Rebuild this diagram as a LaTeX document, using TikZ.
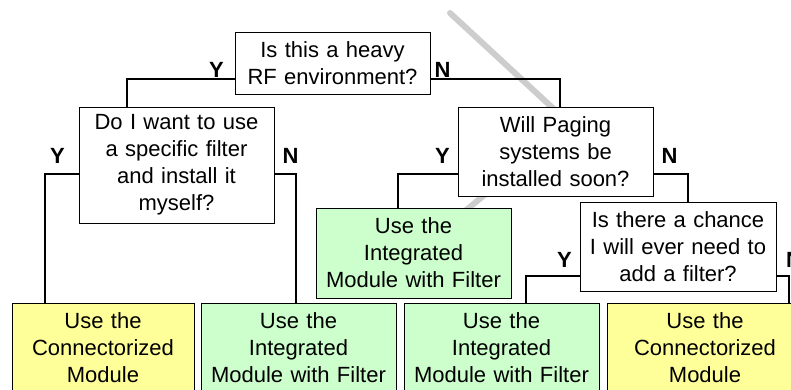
\documentclass[tikz,border=0pt]{standalone}
\usepackage{fontspec}
\setmainfont{Liberation Sans}
\definecolor{yellowbox}{RGB}{255,255,153}
\definecolor{greenbox}{RGB}{204,255,204}
\definecolor{slash}{RGB}{205,205,205}
\begin{document}
\begin{tikzpicture}[x=1pt,y=-1pt,
  box/.style={draw=black,line width=0.9pt,fill=white,inner sep=0pt,align=center,
    font=\fontsize{22}{27}\selectfont},
  ybox/.style={box,fill=yellowbox},
  gbox/.style={box,fill=greenbox},
  yn/.style={font=\fontsize{22}{26}\selectfont\bfseries,anchor=base,inner sep=0pt},
  conn/.style={draw=black,line width=1.1pt}]
\useasboundingbox (0,0) rectangle (791,390);
\clip (0,0) rectangle (791,390);
% grey mark behind the boxes
\draw[slash,line width=6pt,line cap=round,line join=round] (450,13) -- (570,124) -- (400,265);
% decision boxes
\node[box,minimum width=195pt,minimum height=62pt,text width=190pt] (q1) at (332.5,63) {Is this a heavy\\RF environment?};
\node[box,minimum width=195pt,minimum height=116pt,text width=190pt] (q2) at (176.5,165) {Do I want to use\\a specific filter\\and install it\\myself?};
\node[box,minimum width=195pt,minimum height=89pt,text width=190pt] (q3) at (555.5,151.5) {Will Paging\\systems be\\installed soon?};
\node[box,minimum width=196pt,minimum height=89pt,text width=190pt] (q4) at (678,246.5) {Is there a chance\\I will ever need to\\add a filter?};
% result boxes
\node[gbox,minimum width=195pt,minimum height=90pt,text width=190pt] (g1) at (413.5,253) {Use the\\Integrated\\Module with Filter};
\node[ybox,minimum width=182pt,minimum height=90pt,text width=178pt] (b1) at (103,348) {Use the\\Connectorized\\Module};
\node[gbox,minimum width=195pt,minimum height=90pt,text width=190pt] (b2) at (298.5,348) {Use the\\Integrated\\Module with Filter};
\node[gbox,minimum width=195pt,minimum height=90pt,text width=190pt] (b3) at (501.5,348) {Use the\\Integrated\\Module with Filter};
\node[ybox,minimum width=196pt,minimum height=90pt,text width=190pt] (b4) at (705,348) {Use the\\Connectorized\\Module};
% corner points
\coordinate (c1) at (127,79);
\coordinate (c2) at (560,79);
\coordinate (c3) at (45,174);
\coordinate (c4) at (296,174);
\coordinate (c5) at (398,174);
\coordinate (c6) at (688,174);
\coordinate (c7) at (526,276);
\coordinate (c8) at (789,276);
% connectors
\draw[conn] (q1.west |- c1) -- (c1) -- (c1 |- q2.north);
\draw[conn] (q1.east |- c2) -- (c2) -- (c2 |- q3.north);
\draw[conn] (q2.west |- c3) -- (c3) -- (c3 |- b1.north);
\draw[conn] (q2.east |- c4) -- (c4) -- (c4 |- b2.north);
\draw[conn] (q3.west |- c5) -- (c5) -- (c5 |- g1.north);
\draw[conn] (q3.east |- c6) -- (c6) -- (c6 |- q4.north);
\draw[conn] (q4.west |- c7) -- (c7) -- (c7 |- b3.north);
\draw[conn] (q4.east |- c8) -- (c8) -- (c8 |- b4.north);
% labels
\node[yn] (y1) at (216.5,78) {Y};
\node[yn] (n1) at (442.5,78) {N};
\node[yn] (y2) at (57.5,164) {Y};
\node[yn] (n2) at (290.5,164) {N};
\node[yn] (y3) at (442.5,164) {Y};
\node[yn] (n3) at (669.5,164) {N};
\node[yn] (y4) at (564.5,267) {Y};
\node[yn] (n4) at (794,267) {N};
\end{tikzpicture}
\end{document}
